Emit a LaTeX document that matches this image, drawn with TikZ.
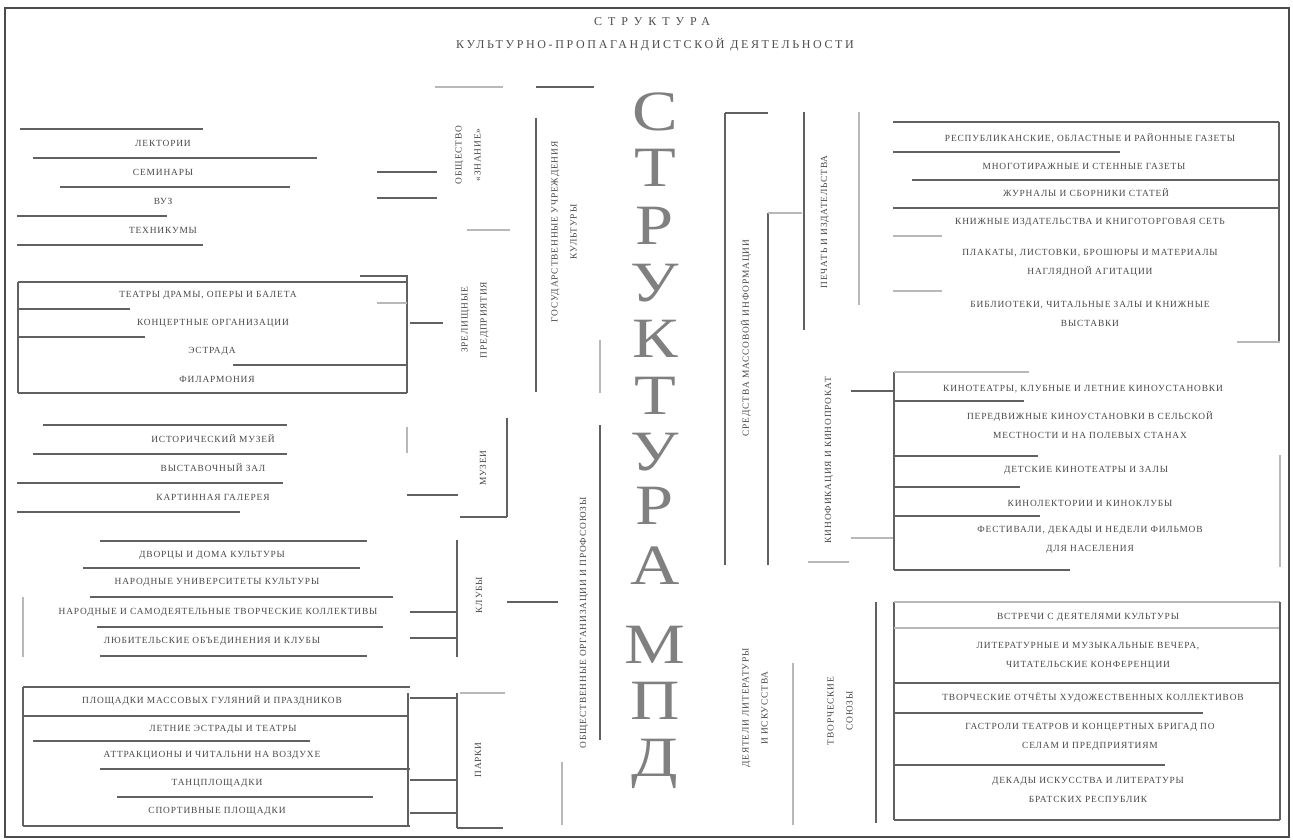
\documentclass[tikz,border=0pt]{standalone}
\usepackage{fontspec}
\setmainfont{Liberation Serif}
\newfontfamily\chartfont[LetterSpace=9]{Liberation Serif}
\newfontfamily\titlefont[LetterSpace=22]{Liberation Serif}
\newfontfamily\titlefontw[LetterSpace=50]{Liberation Serif}
\tikzset{
  ln/.style={line width=1.4pt, draw=black!62},
  fl/.style={line width=1.2pt, draw=black!28},
  row/.style={font=\chartfont\fontsize{9.4}{19}\selectfont, text=black!72, inner sep=0pt, align=center},
  vlab/.style={row, rotate=90},
  big/.style={font=\fontsize{57}{57}\selectfont, text=black!50, inner sep=0pt, xscale=1.2},
}
\begin{document}
\begin{tikzpicture}[x=1pt,y=-1pt]
\useasboundingbox (0,0) rectangle (1293,840);
% frame
\draw[line width=1.8pt, draw=black!70] (5,8) rectangle (1289,837);
% title
\node[font=\titlefontw\fontsize{12}{14}\selectfont, text=black!70, inner sep=0pt] (t1) at (652,22) {СТРУКТУРА};
\node[font=\titlefont\fontsize{12}{14}\selectfont, text=black!70, inner sep=0pt] (t2) at (655,45) {КУЛЬТУРНО-ПРОПАГАНДИСТСКОЙ ДЕЯТЕЛЬНОСТИ};
% big letters
\foreach \l/\y [count=\i] in {С/112,Т/168,Р/226,У/283,К/339,Т/396,У/452,Р/506,А/566,М/645,П/701,Д/764}
  \node[big] (L\i) at (655,\y) {\l};

% ---------- group 1 ----------
\draw[ln] (20,129)--(203,129);
\draw[ln] (33,158)--(317,158);
\draw[ln] (60,187)--(290,187);
\draw[ln] (17,216)--(167,216);
\draw[ln] (17,245)--(203,245);
\node[row] (g1a) at (163,143) {ЛЕКТОРИИ};
\node[row] (g1b) at (163,172) {СЕМИНАРЫ};
\node[row] (g1c) at (163,201) {ВУЗ};
\node[row] (g1d) at (163,230) {ТЕХНИКУМЫ};
\draw[ln] (377,172)--(437,172);
\draw[ln] (377,198)--(437,198);
\draw[fl] (435,87)--(503,87);
\node[vlab] (lab1) at (468,155) {ОБЩЕСТВО\\«ЗНАНИЕ»};
\draw[fl] (467,230)--(510,230);

% ---------- group 2 ----------
\draw[ln] (18,282)--(407,282);
\draw[ln] (18,282)--(18,393);
\draw[ln] (407,275)--(407,393);
\draw[ln] (18,393)--(407,393);
\draw[ln] (18,309)--(130,309);
\draw[ln] (18,337)--(145,337);
\draw[ln] (233,365)--(407,365);
\draw[ln] (360,276)--(407,276);
\draw[fl] (377,303)--(407,303);
\draw[ln] (410,323)--(443,323);
\node[row] (g2a) at (208,295) {ТЕАТРЫ ДРАМЫ, ОПЕРЫ И БАЛЕТА};
\node[row] (g2b) at (213,323) {КОНЦЕРТНЫЕ ОРГАНИЗАЦИИ};
\node[row] (g2c) at (212,351) {ЭСТРАДА};
\node[row] (g2d) at (217,379) {ФИЛАРМОНИЯ};
\node[vlab] (lab2) at (475,320) {ЗРЕЛИЩНЫЕ\\ПРЕДПРИЯТИЯ};

% ---------- group 3 ----------
\draw[ln] (43,425)--(287,425);
\draw[ln] (33,454)--(287,454);
\draw[ln] (17,483)--(283,483);
\draw[ln] (17,512)--(240,512);
\node[row] (g3a) at (213,439) {ИСТОРИЧЕСКИЙ МУЗЕЙ};
\node[row] (g3b) at (213,468) {ВЫСТАВОЧНЫЙ ЗАЛ};
\node[row] (g3c) at (213,497) {КАРТИННАЯ ГАЛЕРЕЯ};
\draw[fl] (407,427)--(407,453);
\draw[ln] (407,495)--(458,495);
\draw[ln] (507,418)--(507,517);
\draw[ln] (460,517)--(507,517);
\node[vlab] (lab3) at (483,468) {МУЗЕИ};

% ---------- group 4 ----------
\draw[ln] (100,541)--(367,541);
\draw[ln] (83,568)--(360,568);
\draw[ln] (90,597)--(393,597);
\draw[ln] (97,627)--(383,627);
\draw[ln] (100,656)--(367,656);
\draw[fl] (23,597)--(23,657);
\node[row] (g4a) at (212,555) {ДВОРЦЫ И ДОМА КУЛЬТУРЫ};
\node[row] (g4b) at (217,582) {НАРОДНЫЕ УНИВЕРСИТЕТЫ КУЛЬТУРЫ};
\node[row] (g4c) at (218,612) {НАРОДНЫЕ И САМОДЕЯТЕЛЬНЫЕ ТВОРЧЕСКИЕ КОЛЛЕКТИВЫ};
\node[row] (g4d) at (212,641) {ЛЮБИТЕЛЬСКИЕ ОБЪЕДИНЕНИЯ И КЛУБЫ};
\draw[ln] (457,540)--(457,657);
\draw[ln] (410,612)--(457,612);
\draw[ln] (410,638)--(457,638);
\node[vlab] (lab4) at (479,595) {КЛУБЫ};
\draw[ln] (507,602)--(558,602);

% ---------- group 5 ----------
\draw[ln] (23,687)--(410,687);
\draw[ln] (23,687)--(23,826);
\draw[ln] (408,693)--(408,826);
\draw[ln] (23,716)--(407,716);
\draw[ln] (33,741)--(310,741);
\draw[ln] (100,769)--(410,769);
\draw[ln] (117,797)--(373,797);
\draw[ln] (23,826)--(410,826);
\node[row] (g5a) at (212,701) {ПЛОЩАДКИ МАССОВЫХ ГУЛЯНИЙ И ПРАЗДНИКОВ};
\node[row] (g5b) at (223,729) {ЛЕТНИЕ ЭСТРАДЫ И ТЕАТРЫ};
\node[row] (g5c) at (212,755) {АТТРАКЦИОНЫ И ЧИТАЛЬНИ НА ВОЗДУХЕ};
\node[row] (g5d) at (217,783) {ТАНЦПЛОЩАДКИ};
\node[row] (g5e) at (217,811) {СПОРТИВНЫЕ ПЛОЩАДКИ};
\draw[ln] (410,698)--(457,698);
\draw[ln] (410,780)--(457,780);
\draw[ln] (410,813)--(457,813);
\draw[ln] (457,693)--(457,828);
\draw[fl] (460,693)--(505,693);
\draw[ln] (457,828)--(503,828);
\node[vlab] (lab5) at (478,760) {ПАРКИ};

% ---------- middle ----------
\draw[ln] (536,118)--(536,392);
\draw[ln] (536,87)--(594,87);
\draw[fl] (600,340)--(600,393);
\node[vlab] (lab6) at (564,232) {ГОСУДАРСТВЕННЫЕ УЧРЕЖДЕНИЯ\\КУЛЬТУРЫ};
\draw[ln] (600,425)--(600,740);
\node[vlab] (lab7) at (584,623) {ОБЩЕСТВЕННЫЕ ОРГАНИЗАЦИИ И ПРОФСОЮЗЫ};
\draw[fl] (562,762)--(562,825);

% ---------- right column labels ----------
\draw[ln] (725,113)--(768,113);
\draw[ln] (725,113)--(725,565);
\draw[ln] (768,213)--(768,565);
\draw[fl] (768,213)--(802,213);
\node[vlab] (lab8) at (746,338) {СРЕДСТВА МАССОВОЙ ИНФОРМАЦИИ};
\draw[ln] (804,112)--(804,330);
\draw[fl] (859,112)--(859,305);
\node[vlab] (lab9) at (825,222) {ПЕЧАТЬ И ИЗДАТЕЛЬСТВА};

% ---------- box 1 ----------
\draw[ln] (893,122)--(1279,122);
\draw[ln] (893,152)--(1120,152);
\draw[ln] (912,180)--(1279,180);
\draw[ln] (893,208)--(1279,208);
\draw[fl] (893,236)--(942,236);
\draw[fl] (893,291)--(942,291);
\draw[ln] (1279,122)--(1279,342);
\draw[fl] (1237,342)--(1280,342);
\node[row] (b1a) at (1090,138) {РЕСПУБЛИКАНСКИЕ, ОБЛАСТНЫЕ И РАЙОННЫЕ ГАЗЕТЫ};
\node[row] (b1b) at (1084,166) {МНОГОТИРАЖНЫЕ И СТЕННЫЕ ГАЗЕТЫ};
\node[row] (b1c) at (1086,193) {ЖУРНАЛЫ И СБОРНИКИ СТАТЕЙ};
\node[row] (b1d) at (1090,222) {КНИЖНЫЕ ИЗДАТЕЛЬСТВА И КНИГОТОРГОВАЯ СЕТЬ};
\node[row] (b1e) at (1090,263) {ПЛАКАТЫ, ЛИСТОВКИ, БРОШЮРЫ И МАТЕРИАЛЫ\\НАГЛЯДНОЙ АГИТАЦИИ};
\node[row] (b1f) at (1090,314) {БИБЛИОТЕКИ, ЧИТАЛЬНЫЕ ЗАЛЫ И КНИЖНЫЕ\\ВЫСТАВКИ};

% ---------- box 2 ----------
\node[vlab] (lab10) at (829,460) {КИНОФИКАЦИЯ И КИНОПРОКАТ};
\draw[ln] (851,391)--(893,391);
\draw[fl] (851,538)--(893,538);
\draw[fl] (808,562)--(849,562);
\draw[ln] (894,372)--(894,570);
\draw[fl] (894,372)--(1029,372);
\draw[ln] (894,401)--(1024,401);
\draw[ln] (894,456)--(1038,456);
\draw[ln] (894,487)--(1020,487);
\draw[ln] (894,516)--(1040,516);
\draw[ln] (894,570)--(1070,570);
\draw[fl] (1280,455)--(1280,567);
\node[row] (b2a) at (1083,389) {КИНОТЕАТРЫ, КЛУБНЫЕ И ЛЕТНИЕ КИНОУСТАНОВКИ};
\node[row] (b2b) at (1090,425) {ПЕРЕДВИЖНЫЕ КИНОУСТАНОВКИ В СЕЛЬСКОЙ\\МЕСТНОСТИ И НА ПОЛЕВЫХ СТАНАХ};
\node[row] (b2c) at (1086,470) {ДЕТСКИЕ КИНОТЕАТРЫ И ЗАЛЫ};
\node[row] (b2d) at (1090,503) {КИНОЛЕКТОРИИ И КИНОКЛУБЫ};
\node[row] (b2e) at (1090,540) {ФЕСТИВАЛИ, ДЕКАДЫ И НЕДЕЛИ ФИЛЬМОВ\\ДЛЯ НАСЕЛЕНИЯ};

% ---------- box 3 ----------
\node[vlab] (lab11) at (755,708) {ДЕЯТЕЛИ ЛИТЕРАТУРЫ\\И ИСКУССТВА};
\draw[fl] (793,663)--(793,825);
\node[vlab] (lab12) at (840,711) {ТВОРЧЕСКИЕ\\СОЮЗЫ};
\draw[ln] (876,602)--(876,823);
\draw[ln] (894,602)--(894,820);
\draw[fl] (894,602)--(1280,602);
\draw[fl] (894,628)--(1280,628);
\draw[ln] (894,683)--(1280,683);
\draw[ln] (894,713)--(1203,713);
\draw[ln] (894,765)--(1165,765);
\draw[ln] (894,820)--(1280,820);
\draw[ln] (1280,602)--(1280,820);
\node[row] (b3a) at (1088,617) {ВСТРЕЧИ С ДЕЯТЕЛЯМИ КУЛЬТУРЫ};
\node[row] (b3b) at (1088,656) {ЛИТЕРАТУРНЫЕ И МУЗЫКАЛЬНЫЕ ВЕЧЕРА,\\ЧИТАТЕЛЬСКИЕ КОНФЕРЕНЦИИ};
\node[row] (b3c) at (1093,698) {ТВОРЧЕСКИЕ ОТЧЁТЫ ХУДОЖЕСТВЕННЫХ КОЛЛЕКТИВОВ};
\node[row] (b3d) at (1090,737) {ГАСТРОЛИ ТЕАТРОВ И КОНЦЕРТНЫХ БРИГАД ПО\\СЕЛАМ И ПРЕДПРИЯТИЯМ};
\node[row] (b3e) at (1088,790) {ДЕКАДЫ ИСКУССТВА И ЛИТЕРАТУРЫ\\БРАТСКИХ РЕСПУБЛИК};
\end{tikzpicture}
\end{document}
